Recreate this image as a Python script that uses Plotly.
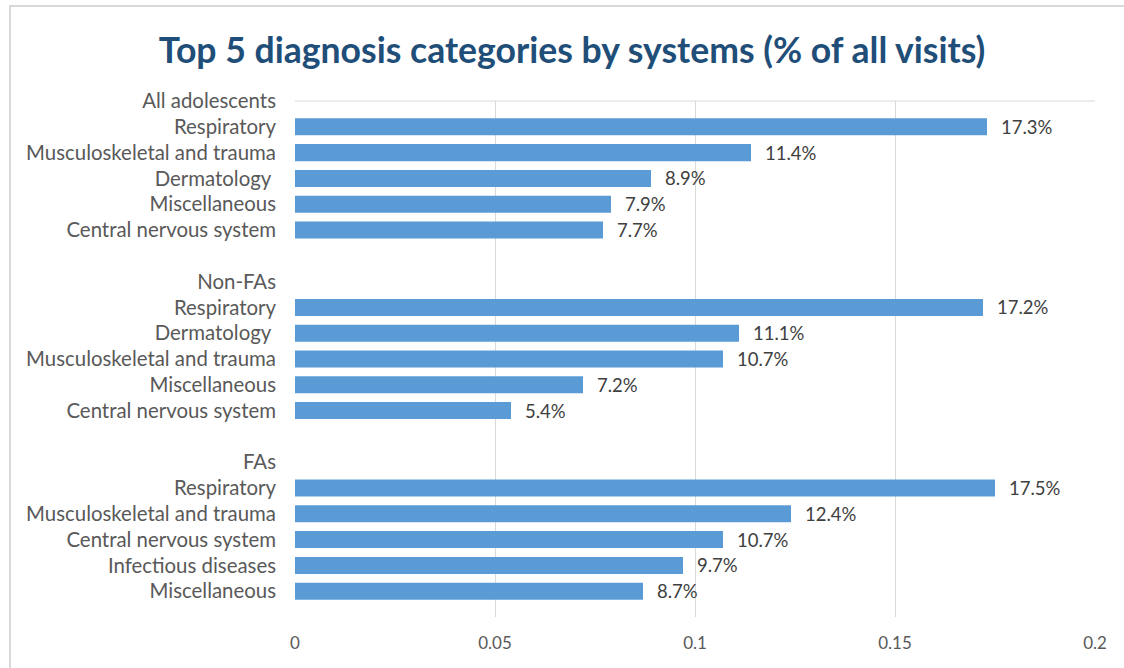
import plotly.graph_objects as go

groups = ["All adolescents", "Non-FAs", "FAs"]
group_categories = [
    ["Respiratory", "Musculoskeletal and trauma", "Dermatology ", "Miscellaneous", "Central nervous system"],
    ["Respiratory", "Dermatology ", "Musculoskeletal and trauma", "Miscellaneous", "Central nervous system"],
    ["Respiratory", "Musculoskeletal and trauma", "Central nervous system", "Infectious diseases", "Miscellaneous"],
]
group_values = [
    [0.173, 0.114, 0.089, 0.079, 0.077],
    [0.172, 0.111, 0.107, 0.072, 0.054],
    [0.175, 0.124, 0.107, 0.097, 0.087],
]
x_ticks = [0, 0.05, 0.1, 0.15, 0.2]
x_tick_labels = ["0", "0.05", "0.1", "0.15", "0.2"]

# Build row layout: header row, 5 bars, blank row between groups
labels, bar_pos, bar_vals, bar_text = [], [], [], []
for gi, g in enumerate(groups):
    if gi > 0:
        labels.append("")
    labels.append(g)
    for c, v in zip(group_categories[gi], group_values[gi]):
        bar_pos.append(len(labels))
        labels.append(c)
        bar_vals.append(v)
        bar_text.append(f"{v*100:.1f}%")

FONT = "Lato"

fig = go.Figure(go.Bar(
    x=bar_vals, y=bar_pos, orientation="h", width=0.66,
    marker=dict(color="#5B9BD5", line=dict(width=0)),
))

annotations = [
    dict(x=v, y=p, text=t, xref="x", yref="y", xanchor="left", yanchor="middle",
         xshift=12, showarrow=False,
         font=dict(family=FONT, size=18.5, color="#404040"))
    for v, p, t in zip(bar_vals, bar_pos, bar_text)
]

fig.update_layout(
    width=1124, height=668,
    margin=dict(l=295, r=29, t=101, b=51),
    paper_bgcolor="white", plot_bgcolor="white",
    showlegend=False,
    annotations=annotations,
    title=dict(text="<b>Top 5 diagnosis categories by systems (% of all visits)</b>",
               x=0.509, xanchor="center", y=0.925, yanchor="middle",
               font=dict(family=FONT, size=35.6, color="#1F4E79")),
    xaxis=dict(range=[0, 0.2], tickvals=x_ticks, ticktext=x_tick_labels,
               showgrid=True, gridcolor="#D9D9D9", gridwidth=1,
               zeroline=False, showline=False, ticks="",
               tickfont=dict(family=FONT, size=17, color="#595959"),
               ticklabelstandoff=14),
    yaxis=dict(range=[len(labels) + 0.0, -0.001],
               tickvals=list(range(len(labels))), ticktext=labels,
               showgrid=False, zeroline=False, showline=False, ticks="",
               tickfont=dict(family=FONT, size=20.4, color="#595959"),
               ticklabelstandoff=18),
    shapes=[
        dict(type="line", xref="paper", yref="paper", x0=0, x1=1, y0=1, y1=1,
             line=dict(color="#D9D9D9", width=1)),
        dict(type="rect", xref="paper", yref="paper",
             x0=(10 - 295) / 800, x1=(1130 - 295) / 800,
             y0=-(680 - 617) / 516, y1=1 + (101 - 6) / 516,
             line=dict(color="#D9D9D9", width=2)),
    ],
)

fig.write_html("out.html")
